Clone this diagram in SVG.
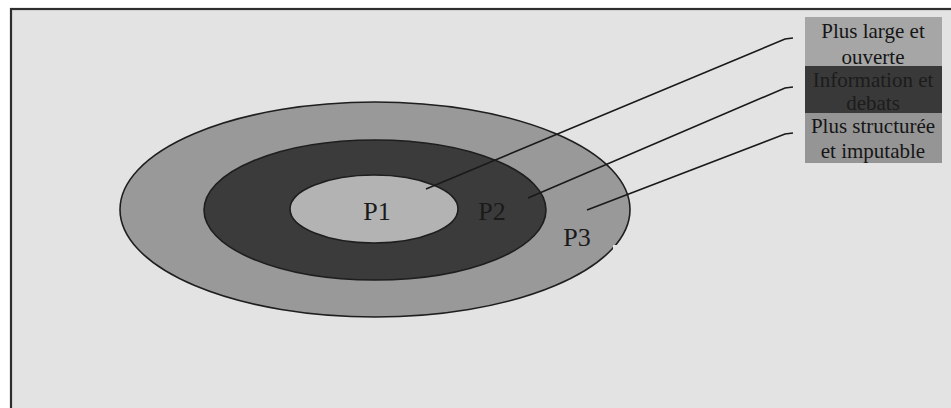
<svg xmlns="http://www.w3.org/2000/svg" width="951" height="408" viewBox="0 0 951 408">
  <style>
    .ring { stroke: #1e1e1e; stroke-width: 1.6; }
    .plabel { font-family: "Liberation Serif", serif; font-size: 26px; fill: #1a1a1a; text-anchor: middle; }
    .legtext { font-family: "Liberation Serif", serif; font-size: 21px; fill: #151515; text-anchor: middle; }
    .dark { fill: #1c1c1c; }
    .conn { stroke: #1a1a1a; stroke-width: 1.6; fill: none; }
  </style>
  <rect x="0" y="0" width="951" height="408" fill="#ffffff"/>
  <rect id="frame" x="11" y="9" width="950" height="410" fill="#e3e3e3" stroke="#2e2e2e" stroke-width="2.2"/>

  <g id="ring-p3">
    <ellipse class="ring" cx="375" cy="209.5" rx="255" ry="107.5" fill="#999999"/>
  </g>
  <g id="ring-p2">
    <ellipse class="ring" cx="375" cy="210" rx="171" ry="70" fill="#3b3b3b"/>
  </g>
  <g id="ring-p1">
    <ellipse class="ring" cx="374" cy="209" rx="84" ry="34" fill="#b3b3b3"/>
  </g>
  <rect x="613" y="245" width="16" height="13" fill="#e3e3e3"/>

  <text class="plabel" x="377" y="220">P1</text>
  <text class="plabel" x="492" y="220">P2</text>
  <text class="plabel" x="577" y="246">P3</text>

  <g id="connectors">
    <polyline class="conn" points="426,189 785,39 793,38"/>
    <polyline class="conn" points="528,198 785,88 793,87"/>
    <polyline class="conn" points="587,210 785,134 793,133"/>
  </g>

  <g id="legend-1">
    <rect x="805" y="17" width="137" height="49" fill="#a6a6a6"/>
    <text class="legtext" x="873" y="38">Plus large et</text>
    <text class="legtext" x="873" y="64">ouverte</text>
  </g>
  <g id="legend-2">
    <rect x="805" y="66" width="137" height="47" fill="#393939"/>
    <text class="legtext dark" x="873" y="87">Information et</text>
    <text class="legtext dark" x="873" y="110">debats</text>
  </g>
  <g id="legend-3">
    <rect x="805" y="113" width="137" height="50" fill="#959595"/>
    <text class="legtext" x="873" y="133">Plus structurée</text>
    <text class="legtext" x="873" y="158">et imputable</text>
  </g>
</svg>
